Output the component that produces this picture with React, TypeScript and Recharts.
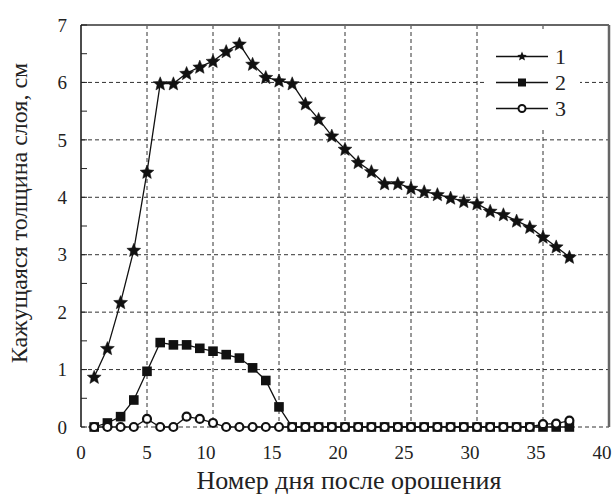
import React from 'react';
import { LineChart, Line, XAxis, YAxis, CartesianGrid, ReferenceLine, Legend } from 'recharts';

const days = [1, 2, 3, 4, 5, 6, 7, 8, 9, 10, 11, 12, 13, 14, 15, 16, 17, 18, 19, 20, 21, 22, 23, 24, 25, 26, 27, 28, 29, 30, 31, 32, 33, 34, 35, 36, 37];
const layer1 = [0.87, 1.37, 2.17, 3.08, 4.44, 5.98, 5.98, 6.16, 6.27, 6.37, 6.54, 6.67, 6.32, 6.09, 6.03, 5.98, 5.63, 5.36, 5.07, 4.84, 4.61, 4.45, 4.24, 4.24, 4.16, 4.1, 4.05, 3.99, 3.93, 3.89, 3.76, 3.7, 3.59, 3.48, 3.31, 3.14, 2.96];
const layer2 = [0, 0.07, 0.18, 0.47, 0.97, 1.47, 1.43, 1.43, 1.37, 1.32, 1.26, 1.2, 1.03, 0.81, 0.35, 0, 0, 0, 0, 0, 0, 0, 0, 0, 0, 0, 0, 0, 0, 0, 0, 0, 0, 0, 0, 0, 0];
const layer3 = [0, 0, 0, 0, 0.14, 0, 0, 0.18, 0.14, 0.07, 0, 0, 0, 0, 0, 0, 0, 0, 0, 0, 0, 0, 0, 0, 0, 0, 0, 0, 0, 0, 0, 0, 0, 0, 0.05, 0.06, 0.11];
const seriesNames = ['1', '2', '3'];

const xTicks = [0, 5, 10, 15, 20, 25, 30, 35, 40];
const xGrid = [5, 10, 15, 20, 25, 30, 35];
const yTicks = [0, 0.5, 1, 1.5, 2, 2.5, 3, 3.5, 4, 4.5, 5, 5.5, 6, 6.5, 7];
const yGrid = [0, 1, 2, 3, 4, 5, 6];

const data = days.map((d, i) => ({ day: d, s1: layer1[i], s2: layer2[i], s3: layer3[i] }));

const FONT = "'Liberation Serif', 'Times New Roman', 'DejaVu Serif', serif";
const txt = { fontFamily: FONT, fill: '#222' };

const starPath = (cx: number, cy: number, R: number) => {
  const r = R * 0.45;
  let p = '';
  for (let k = 0; k < 10; k++) {
    const rad = k % 2 === 0 ? R : r;
    const a = -Math.PI / 2 + (k * Math.PI) / 5;
    p += (k === 0 ? 'M' : 'L') + (cx + rad * Math.cos(a)).toFixed(2) + ',' + (cy + rad * Math.sin(a)).toFixed(2);
  }
  return p + 'Z';
};

const StarDot = (props: any) => {
  const { cx, cy, index } = props;
  if (cx == null || cy == null) return <g key={`st-${index}`} />;
  return <path key={`st-${index}`} d={starPath(cx, cy + 0.5, 7.3)} fill="#111" stroke="#111" strokeWidth={0.5} />;
};

const SquareDot = (props: any) => {
  const { cx, cy, index } = props;
  if (cx == null || cy == null) return <g key={`sq-${index}`} />;
  return <rect key={`sq-${index}`} x={cx - 4.8} y={cy - 4.8} width={9.6} height={9.6} fill="#111" />;
};

const CircleDot = (props: any) => {
  const { cx, cy, index } = props;
  if (cx == null || cy == null) return <g key={`ci-${index}`} />;
  return <circle key={`ci-${index}`} cx={cx} cy={cy} r={4} fill="#fff" stroke="#111" strokeWidth={2.2} />;
};

const YTick = (props: any) => {
  const { x, y, payload } = props;
  const v = payload.value;
  return (
    <g>
      <line x1={x} x2={x + 6} y1={y} y2={y} stroke="#222" strokeWidth={1} />
      {Number.isInteger(v) && (
        <text x={x - 14} y={y} dy="0.35em" textAnchor="end" fontSize={19} style={txt}>
          {v}
        </text>
      )}
    </g>
  );
};

// two-digit labels sit a bit left of their grid line in the original
const XTick = (props: any) => {
  const { x, y, payload } = props;
  const v = payload.value;
  return (
    <text x={x + (v >= 10 ? -7 : 0)} y={y} dy="0.71em" textAnchor="middle" fontSize={19} style={txt}>
      {v}
    </text>
  );
};

const LegendBox = () => {
  const rows = [
    { name: seriesNames[0], mark: (cx: number, cy: number) => <path d={starPath(cx, cy, 5)} fill="#111" /> },
    { name: seriesNames[1], mark: (cx: number, cy: number) => <rect x={cx - 4} y={cy - 4} width={8} height={8} fill="#111" /> },
    { name: seriesNames[2], mark: (cx: number, cy: number) => <circle cx={cx} cy={cy} r={3.5} fill="#fff" stroke="#111" strokeWidth={2} /> },
  ];
  return (
    <svg width={95} height={96} style={{ display: 'block', background: '#fff' }}>
      {rows.map((r, i) => {
        const cy = 24.5 + i * 26;
        return (
          <g key={r.name}>
            <line x1={11} x2={63} y1={cy} y2={cy} stroke="#111" strokeWidth={1.3} />
            {r.mark(37, cy)}
            <text x={70} y={cy} dy="0.35em" fontSize={22} style={txt}>
              {r.name}
            </text>
          </g>
        );
      })}
    </svg>
  );
};

export default function App() {
  return (
    <div style={{ position: 'fixed', left: 0, top: 0, width: 615, height: 496, background: '#fff' }}>
      <LineChart width={615} height={496} data={data} margin={{ top: 25, right: 6, bottom: 0, left: 0 }}>
        <CartesianGrid
          stroke="#333"
          strokeDasharray="4 3"
          strokeWidth={1}
          horizontalValues={yGrid}
          verticalValues={xGrid}
        />
        <XAxis
          dataKey="day"
          type="number"
          domain={[0, 40]}
          ticks={xTicks}
          interval={0}
          height={69}
          axisLine={false}
          tickLine={false}
          tickSize={0}
          tickMargin={19}
          tick={<XTick />}
          label={{ value: 'Номер дня после орошения', position: 'insideBottom', offset: 7, dx: 4, style: { ...txt, fontSize: 26 } }}
        />
        <YAxis
          type="number"
          domain={[0, 7]}
          ticks={yTicks}
          interval={0}
          width={81}
          tickLine={false}
          tickSize={0}
          tickMargin={0}
          axisLine={{ stroke: '#111', strokeWidth: 1.5 }}
          tick={<YTick />}
          label={{ value: 'Кажущаяся толщина слоя, см', angle: -90, position: 'center', dx: -22, dy: -13, style: { ...txt, fontSize: 24 } }}
        />
        <ReferenceLine y={7} stroke="#666" strokeWidth={2} />
        <ReferenceLine x={40} stroke="#666" strokeWidth={2.5} />
        <Legend
          layout="horizontal"
          verticalAlign="middle"
          align="center"
          content={<LegendBox />}
          wrapperStyle={{ position: 'absolute', left: 485, top: 32, width: 95, height: 96 }}
        />
        <Line name={seriesNames[0]} dataKey="s1" stroke="#111" strokeWidth={1.3} dot={StarDot} isAnimationActive={false} />
        <Line name={seriesNames[1]} dataKey="s2" stroke="#111" strokeWidth={1.3} dot={SquareDot} isAnimationActive={false} />
        <Line name={seriesNames[2]} dataKey="s3" stroke="#111" strokeWidth={1.3} dot={CircleDot} isAnimationActive={false} />
      </LineChart>
    </div>
  );
}
